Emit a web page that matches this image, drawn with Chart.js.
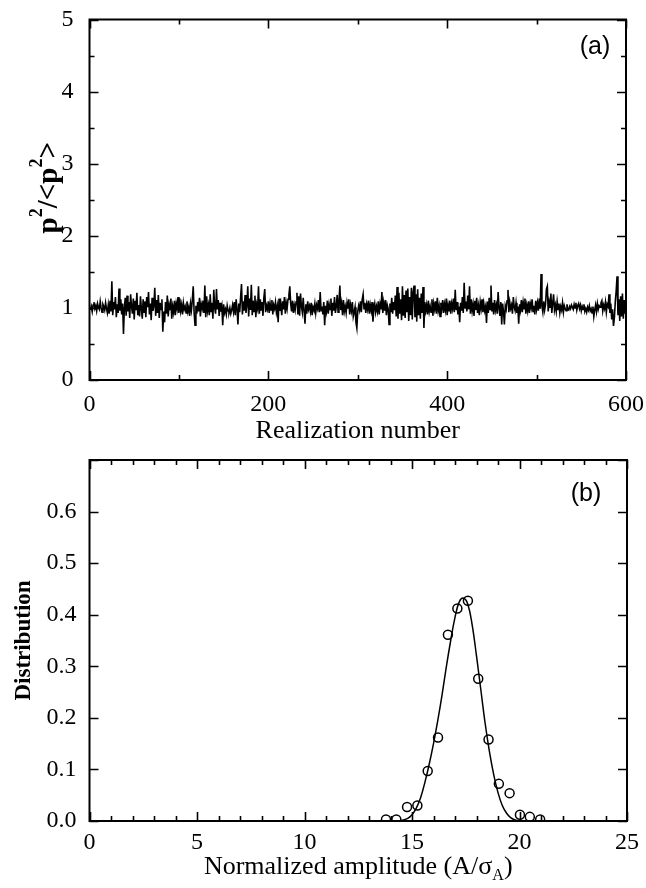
<!DOCTYPE html>
<html>
<head>
<meta charset="utf-8">
<script src="https://cdn.jsdelivr.net/npm/chart.js@4.4.1/dist/chart.umd.min.js"></script>
<style>
  html, body { margin: 0; padding: 0; background: #fff; }
  #wrap { position: relative; width: 646px; height: 888px; }
  canvas { position: absolute; left: 0; }
  #topChart { top: 0; }
  #bottomChart { top: 444px; }
</style>
</head>
<body>
<div id="wrap">
  <canvas id="topChart" width="646" height="444"></canvas>
  <canvas id="bottomChart" width="646" height="444"></canvas>
</div>
<script>
// (a) p^2/<p^2> per realization (realizations 1..600)
const ratioValues = [
  0.97, 1.02, 0.95, 1.04, 1.08, 0.99, 1.03, 0.96, 1.06, 1.01, 0.98, 1.09, 1.00, 0.94, 1.05, 1.02, 0.97, 1.07, 0.99, 0.93,
  1.04, 0.92, 1.10, 0.95, 1.37, 0.90, 1.08, 0.98, 1.15, 0.87, 1.05, 0.93, 1.27, 0.96, 1.12, 0.91, 1.06, 0.64, 1.00, 1.14,
  0.89, 1.17, 0.95, 1.08, 0.86, 1.19, 1.02, 0.92, 1.13, 0.84, 1.10, 0.97, 1.21, 0.90, 1.04, 0.88, 1.16, 0.99, 0.85, 1.12,
  0.94, 1.09, 0.87, 1.15, 1.01, 1.22, 0.91, 1.06, 0.83, 1.14, 0.96, 1.03, 1.28, 0.89, 1.11, 0.93, 1.18, 0.86, 1.07, 0.98,
  1.12, 0.67, 0.95, 0.80, 1.08, 0.92, 1.17, 0.88, 1.04, 0.97, 1.13, 0.85, 1.02, 0.94, 1.10, 0.90, 1.06, 0.99, 1.15, 0.93,
  1.13, 0.96, 1.04, 0.91, 1.07, 0.98, 1.02, 0.93, 1.09, 0.95, 1.01, 0.89, 1.06, 0.97, 1.11, 1.30, 0.94, 0.76, 1.03, 0.92,
  1.08, 0.95, 1.14, 0.88, 1.05, 0.99, 1.10, 0.93, 1.31, 0.87, 1.16, 0.96, 1.04, 0.90, 1.19, 0.94, 1.07, 0.85, 1.25, 1.00,
  0.92, 1.26, 0.98, 1.11, 0.89, 1.07, 0.95, 1.02, 0.76, 1.05, 0.93, 0.98, 0.91, 1.03, 0.96, 0.94, 1.00, 0.92, 0.97, 1.04,
  0.95, 1.08, 0.90, 1.12, 0.98, 0.77, 1.06, 0.94, 1.15, 1.33, 0.91, 1.09, 0.96, 1.18, 0.93, 1.04, 1.30, 0.88, 1.13, 0.97,
  1.32, 0.90, 1.10, 0.95, 1.17, 0.87, 1.05, 0.99, 1.30, 0.92, 1.12, 0.96, 1.08, 0.89, 1.14, 1.26, 0.94, 1.03, 0.98, 1.09,
  0.93, 1.06, 0.97, 1.11, 0.91, 1.04, 0.99, 1.08, 0.94, 1.02, 0.80, 1.13, 0.96, 1.05, 0.90, 1.09, 0.98, 1.15, 0.92, 1.07,
  0.99, 1.12, 1.18, 1.30, 1.06, 0.95, 1.10, 0.93, 1.04, 0.97, 1.08, 1.21, 0.91, 1.16, 0.89, 1.20, 1.02, 0.94, 1.14, 0.96,
  0.78, 1.05, 0.92, 1.09, 0.98, 1.03, 0.95, 1.07, 0.90, 1.01, 0.97, 1.06, 0.93, 1.04, 0.99, 1.11, 0.94, 1.22, 0.96, 1.02,
  0.91, 1.08, 0.76, 1.03, 0.95, 1.10, 0.92, 1.05, 0.98, 1.13, 0.89, 1.07, 0.96, 1.15, 0.93, 1.02, 1.18, 0.94, 1.09, 1.31,
  0.97, 1.06, 0.90, 1.11, 0.95, 1.02, 0.93, 1.07, 0.99, 1.12, 0.91, 1.04, 0.96, 1.08, 0.88, 0.94, 1.01, 0.80, 0.72, 0.95,
  1.03, 0.97, 1.09, 0.94, 1.12, 1.19, 0.99, 1.07, 0.93, 1.05, 0.98, 1.10, 0.92, 1.04, 0.96, 1.08, 0.81, 0.99, 1.06, 0.94,
  1.02, 0.95, 1.09, 0.91, 1.05, 0.98, 1.22, 0.93, 1.07, 0.96, 1.11, 0.90, 1.04, 0.99, 0.77, 1.06, 0.94, 1.14, 0.92, 1.08,
  0.97, 1.17, 0.88, 1.29, 0.85, 1.21, 0.92, 1.12, 0.83, 1.30, 0.89, 1.18, 0.86, 1.24, 0.94, 1.27, 0.82, 1.15, 0.90, 1.28,
  0.84, 1.22, 1.31, 0.87, 1.19, 0.81, 1.26, 0.90, 1.14, 0.85, 1.20, 0.93, 1.29, 0.72, 1.08, 0.96, 1.04, 0.91, 1.10, 0.95,
  1.02, 0.94, 1.12, 0.89, 1.06, 0.98, 1.09, 0.92, 1.14, 0.96, 1.03, 0.88, 1.07, 0.99, 1.11, 0.93, 1.05, 0.97, 1.13, 0.90,
  1.04, 0.95, 1.10, 0.92, 1.06, 0.99, 1.13, 0.94, 1.25, 0.97, 1.08, 0.91, 1.02, 0.80, 1.07, 0.96, 1.15, 0.93, 1.35, 1.00,
  1.09, 0.95, 1.17, 0.98, 1.30, 0.92, 1.12, 0.96, 1.05, 0.89, 1.10, 0.97, 1.14, 0.93, 1.03, 0.90, 1.08, 0.99, 1.12, 0.94,
  1.06, 0.96, 1.02, 0.79, 1.09, 0.93, 1.14, 0.98, 1.31, 0.95, 1.07, 0.91, 1.11, 0.97, 1.04, 0.92, 1.22, 1.00, 0.89, 1.08,
  0.77, 1.06, 0.95, 0.77, 1.03, 0.98, 1.10, 1.25, 0.94, 1.08, 0.99, 1.04, 0.92, 1.15, 1.01, 0.96, 1.07, 0.93, 1.02, 0.78,
  1.05, 0.97, 1.11, 0.94, 1.08, 0.99, 1.13, 0.92, 1.04, 0.96, 1.09, 0.93, 1.06, 1.00, 1.12, 0.95, 1.03, 0.91, 1.10, 0.98,
  1.07, 0.96, 1.13, 0.99, 1.47, 1.02, 0.94, 1.09, 0.97, 1.05, 1.26, 1.30, 0.95, 1.08, 1.00, 1.20, 0.93, 1.06, 1.19, 0.97,
  1.04, 0.95, 1.09, 0.98, 1.06, 0.93, 1.02, 0.97, 1.07, 0.94, 1.03, 0.99, 0.96, 1.05, 0.98, 0.97, 1.02, 0.99, 1.04, 1.01,
  0.98, 1.05, 1.00, 1.07, 0.97, 1.03, 1.06, 0.99, 1.04, 0.96, 1.02, 0.98, 1.05, 0.95, 0.99, 0.94, 1.01, 0.97, 1.03, 0.96,
  0.99, 0.93, 1.02, 0.88, 0.97, 1.04, 0.95, 1.06, 0.98, 1.03, 1.01, 1.07, 1.10, 0.96, 1.04, 0.99, 1.08, 0.94, 1.05, 1.02,
  1.19, 0.93, 1.06, 0.84, 0.98, 0.75, 0.86, 1.08, 1.23, 1.44, 0.90, 1.12, 0.82, 1.16, 0.88, 1.20, 0.85, 1.11, 0.92, 1.05
];

// (b) measured distribution (open circles)
const ampPoints = [13.79, 14.27, 14.77, 15.25, 15.73, 16.21, 16.67, 17.11, 17.60, 18.08, 18.56, 19.04, 19.54, 20.02, 20.48, 20.96];
const distPoints = [0.003, 0.003, 0.027, 0.030, 0.097, 0.162, 0.361, 0.412, 0.427, 0.276, 0.158, 0.072, 0.054, 0.012, 0.008, 0.003];

// (b) fitted curve
const ampCurve = [14.4, 14.8, 15.0, 15.2, 15.4, 15.6, 15.8, 16.0, 16.2, 16.4, 16.6, 16.8, 17.0, 17.2, 17.4, 17.6, 17.8, 18.0, 18.2, 18.4, 18.6, 18.8, 19.0, 19.2, 19.4, 19.6, 19.8, 20.1];
const distCurve = [0.0, 0.005, 0.012, 0.025, 0.045, 0.075, 0.11, 0.15, 0.195, 0.245, 0.30, 0.35, 0.395, 0.425, 0.432, 0.42, 0.38, 0.32, 0.255, 0.19, 0.135, 0.09, 0.055, 0.03, 0.015, 0.006, 0.002, 0.0];

// tick values
const topXMajor = [0, 200, 400, 600];
const topXMinor = [100, 300, 500];
const topYMajor = [0, 1, 2, 3, 4, 5];
const topYMinor = [0.5, 1.5, 2.5, 3.5, 4.5];
const botXMajor = [0, 5, 10, 15, 20, 25];
const botXMinor = [1, 2, 3, 4, 6, 7, 8, 9, 11, 12, 13, 14, 16, 17, 18, 19, 21, 22, 23, 24];
const botYMajor = [0, 0.1, 0.2, 0.3, 0.4, 0.5, 0.6, 0.7];

const SERIF = "'Liberation Serif', 'Times New Roman', serif";
const SANS = "'Liberation Sans', Arial, sans-serif";

// draws text made of pieces, some raised or lowered, centred on (x, y)
function drawRich(ctx, segs, x, y, size, weight, angle) {
    ctx.save();
    ctx.translate(x, y);
    ctx.rotate(angle || 0);
    ctx.fillStyle = "#000";
    ctx.textBaseline = "middle";
    ctx.textAlign = "left";
    let total = 0;
    segs.forEach((s) => {
        const fs = s.sup || s.sub ? size * 0.62 : size;
        ctx.font = weight + " " + fs + "px " + SERIF;
        s.w = ctx.measureText(s.t).width;
        s.fs = fs;
        total += s.w;
    });
    let cx = -total / 2;
    segs.forEach((s) => {
        ctx.font = weight + " " + s.fs + "px " + SERIF;
        let dy = 0;
        if (s.sup) dy = -size * 0.42;
        if (s.sub) dy = size * 0.32;
        ctx.fillText(s.t, cx, dy);
        cx += s.w;
    });
    ctx.restore();
}

// frame + inward ticks on all four sides
const frameTicks = {
    id: "frameTicks",
    afterDraw(chart, args, opts) {
        const ctx = chart.ctx;
        const a = chart.chartArea;
        const xs = chart.scales.x;
        const ys = chart.scales.y;
        ctx.save();
        ctx.strokeStyle = "#000";
        ctx.lineWidth = 2;
        ctx.strokeRect(a.left, a.top, a.right - a.left, a.bottom - a.top);
        ctx.lineWidth = 1.6;
        const tick = (vals, len, isX) => {
            vals.forEach((v) => {
                ctx.beginPath();
                if (isX) {
                    const px = Math.round(xs.getPixelForValue(v)) + 0.5;
                    ctx.moveTo(px, a.bottom);
                    ctx.lineTo(px, a.bottom - len);
                    ctx.moveTo(px, a.top);
                    ctx.lineTo(px, a.top + len);
                } else {
                    const py = Math.round(ys.getPixelForValue(v)) + 0.5;
                    ctx.moveTo(a.left, py);
                    ctx.lineTo(a.left + len, py);
                    ctx.moveTo(a.right, py);
                    ctx.lineTo(a.right - len, py);
                }
                ctx.stroke();
            });
        };
        tick(opts.xMajor, 9, true);
        tick(opts.xMinor, 5, true);
        tick(opts.yMajor, 9, false);
        tick(opts.yMinor, 5, false);
        ctx.restore();
    },
};

// axis titles and panel letters
const labels = {
    id: "labels",
    afterDraw(chart, args, opts) {
        const ctx = chart.ctx;
        const a = chart.chartArea;
        const midX = (a.left + a.right) / 2;
        const midY = (a.top + a.bottom) / 2;
        drawRich(ctx, opts.xTitle, midX, a.bottom + opts.xTitleOffset, 26, "normal", 0);
        drawRich(ctx, opts.yTitle, opts.yTitleX, midY + opts.yTitleShift, opts.yTitleSize, "bold", -Math.PI / 2);
        ctx.save();
        ctx.fillStyle = "#000";
        ctx.font = "25px " + SANS;
        ctx.textAlign = "center";
        ctx.textBaseline = "middle";
        ctx.fillText(opts.panel, a.right - opts.panelDx, a.top + opts.panelDy);
        ctx.restore();
    },
};

const tickFont = { family: SERIF, size: 24 };

function axisX(min, max, step, fixH, pad) {
    return {
        type: "linear",
        min: min,
        max: max,
        ticks: { stepSize: step, color: "#000", font: tickFont, padding: pad, maxRotation: 0 },
        grid: { display: false, drawTicks: false },
        border: { display: false },
        afterFit: (s) => {
            s.height = fixH;
            s.paddingLeft = 0;
            s.paddingRight = 0;
        },
    };
}

function axisY(min, max, step, fmt, pad) {
    return {
        type: "linear",
        min: min,
        max: max,
        ticks: { stepSize: step, color: "#000", font: tickFont, padding: pad, callback: fmt },
        grid: { display: false, drawTicks: false },
        border: { display: false },
        afterFit: (s) => {
            s.width = 89.5;
            s.paddingTop = 0;
            s.paddingBottom = 0;
        },
    };
}

new Chart(document.getElementById("topChart"), {
    type: "line",
    data: {
        datasets: [
            {
                data: ratioValues.map((v, i) => ({ x: i + 1, y: v })),
                borderColor: "#000",
                borderWidth: 1.6,
                pointRadius: 0,
                tension: 0,
            },
        ],
    },
    options: {
        responsive: false,
        animation: false,
        layout: { padding: { top: 19.5, right: 20, left: 0, bottom: 0 } },
        plugins: {
            legend: { display: false },
            tooltip: { enabled: false },
            frameTicks: { xMajor: topXMajor, xMinor: topXMinor, yMajor: topYMajor, yMinor: topYMinor },
            labels: {
                xTitle: [{ t: "Realization number" }],
                xTitleOffset: 51,
                yTitle: [{ t: "p" }, { t: "2", sup: true }, { t: "/<p" }, { t: "2", sup: true }, { t: ">" }],
                yTitleX: 50,
                yTitleSize: 29,
                yTitleShift: -12,
                panel: "(a)",
                panelDx: 31,
                panelDy: 28,
            },
        },
        scales: {
            x: axisX(0, 600, 200, 64, 10),
            y: axisY(0, 5, 1, (v) => v, 16),
        },
    },
    plugins: [frameTicks, labels],
});

new Chart(document.getElementById("bottomChart"), {
    type: "scatter",
    data: {
        datasets: [
            {
                data: ampCurve.map((x, i) => ({ x: x, y: distCurve[i] })),
                showLine: true,
                borderColor: "#000",
                borderWidth: 1.5,
                pointRadius: 0,
                tension: 0.4,
            },
            {
                data: ampPoints.map((x, i) => ({ x: x, y: distPoints[i] })),
                showLine: false,
                borderColor: "#000",
                backgroundColor: "rgba(0,0,0,0)",
                borderWidth: 1.5,
                pointRadius: 4.5,
            },
        ],
    },
    options: {
        responsive: false,
        animation: false,
        layout: { padding: { top: 16, right: 19, left: 0, bottom: 0 } },
        plugins: {
            legend: { display: false },
            tooltip: { enabled: false },
            frameTicks: { xMajor: botXMajor, xMinor: botXMinor, yMajor: botYMajor, yMinor: [] },
            labels: {
                xTitle: [{ t: "Normalized amplitude (A/σ" }, { t: "A", sub: true }, { t: ")" }],
                xTitleOffset: 46,
                yTitle: [{ t: "Distribution" }],
                yTitleX: 24,
                yTitleSize: 23,
                yTitleShift: 0,
                panel: "(b)",
                panelDx: 41,
                panelDy: 34,
            },
        },
        scales: {
            x: axisX(0, 25, 5, 67, 7),
            y: axisY(0, 0.7, 0.1, (v) => (v > 0.65 ? "" : v.toFixed(1)), 13),
        },
    },
    plugins: [frameTicks, labels],
});
</script>
</body>
</html>
